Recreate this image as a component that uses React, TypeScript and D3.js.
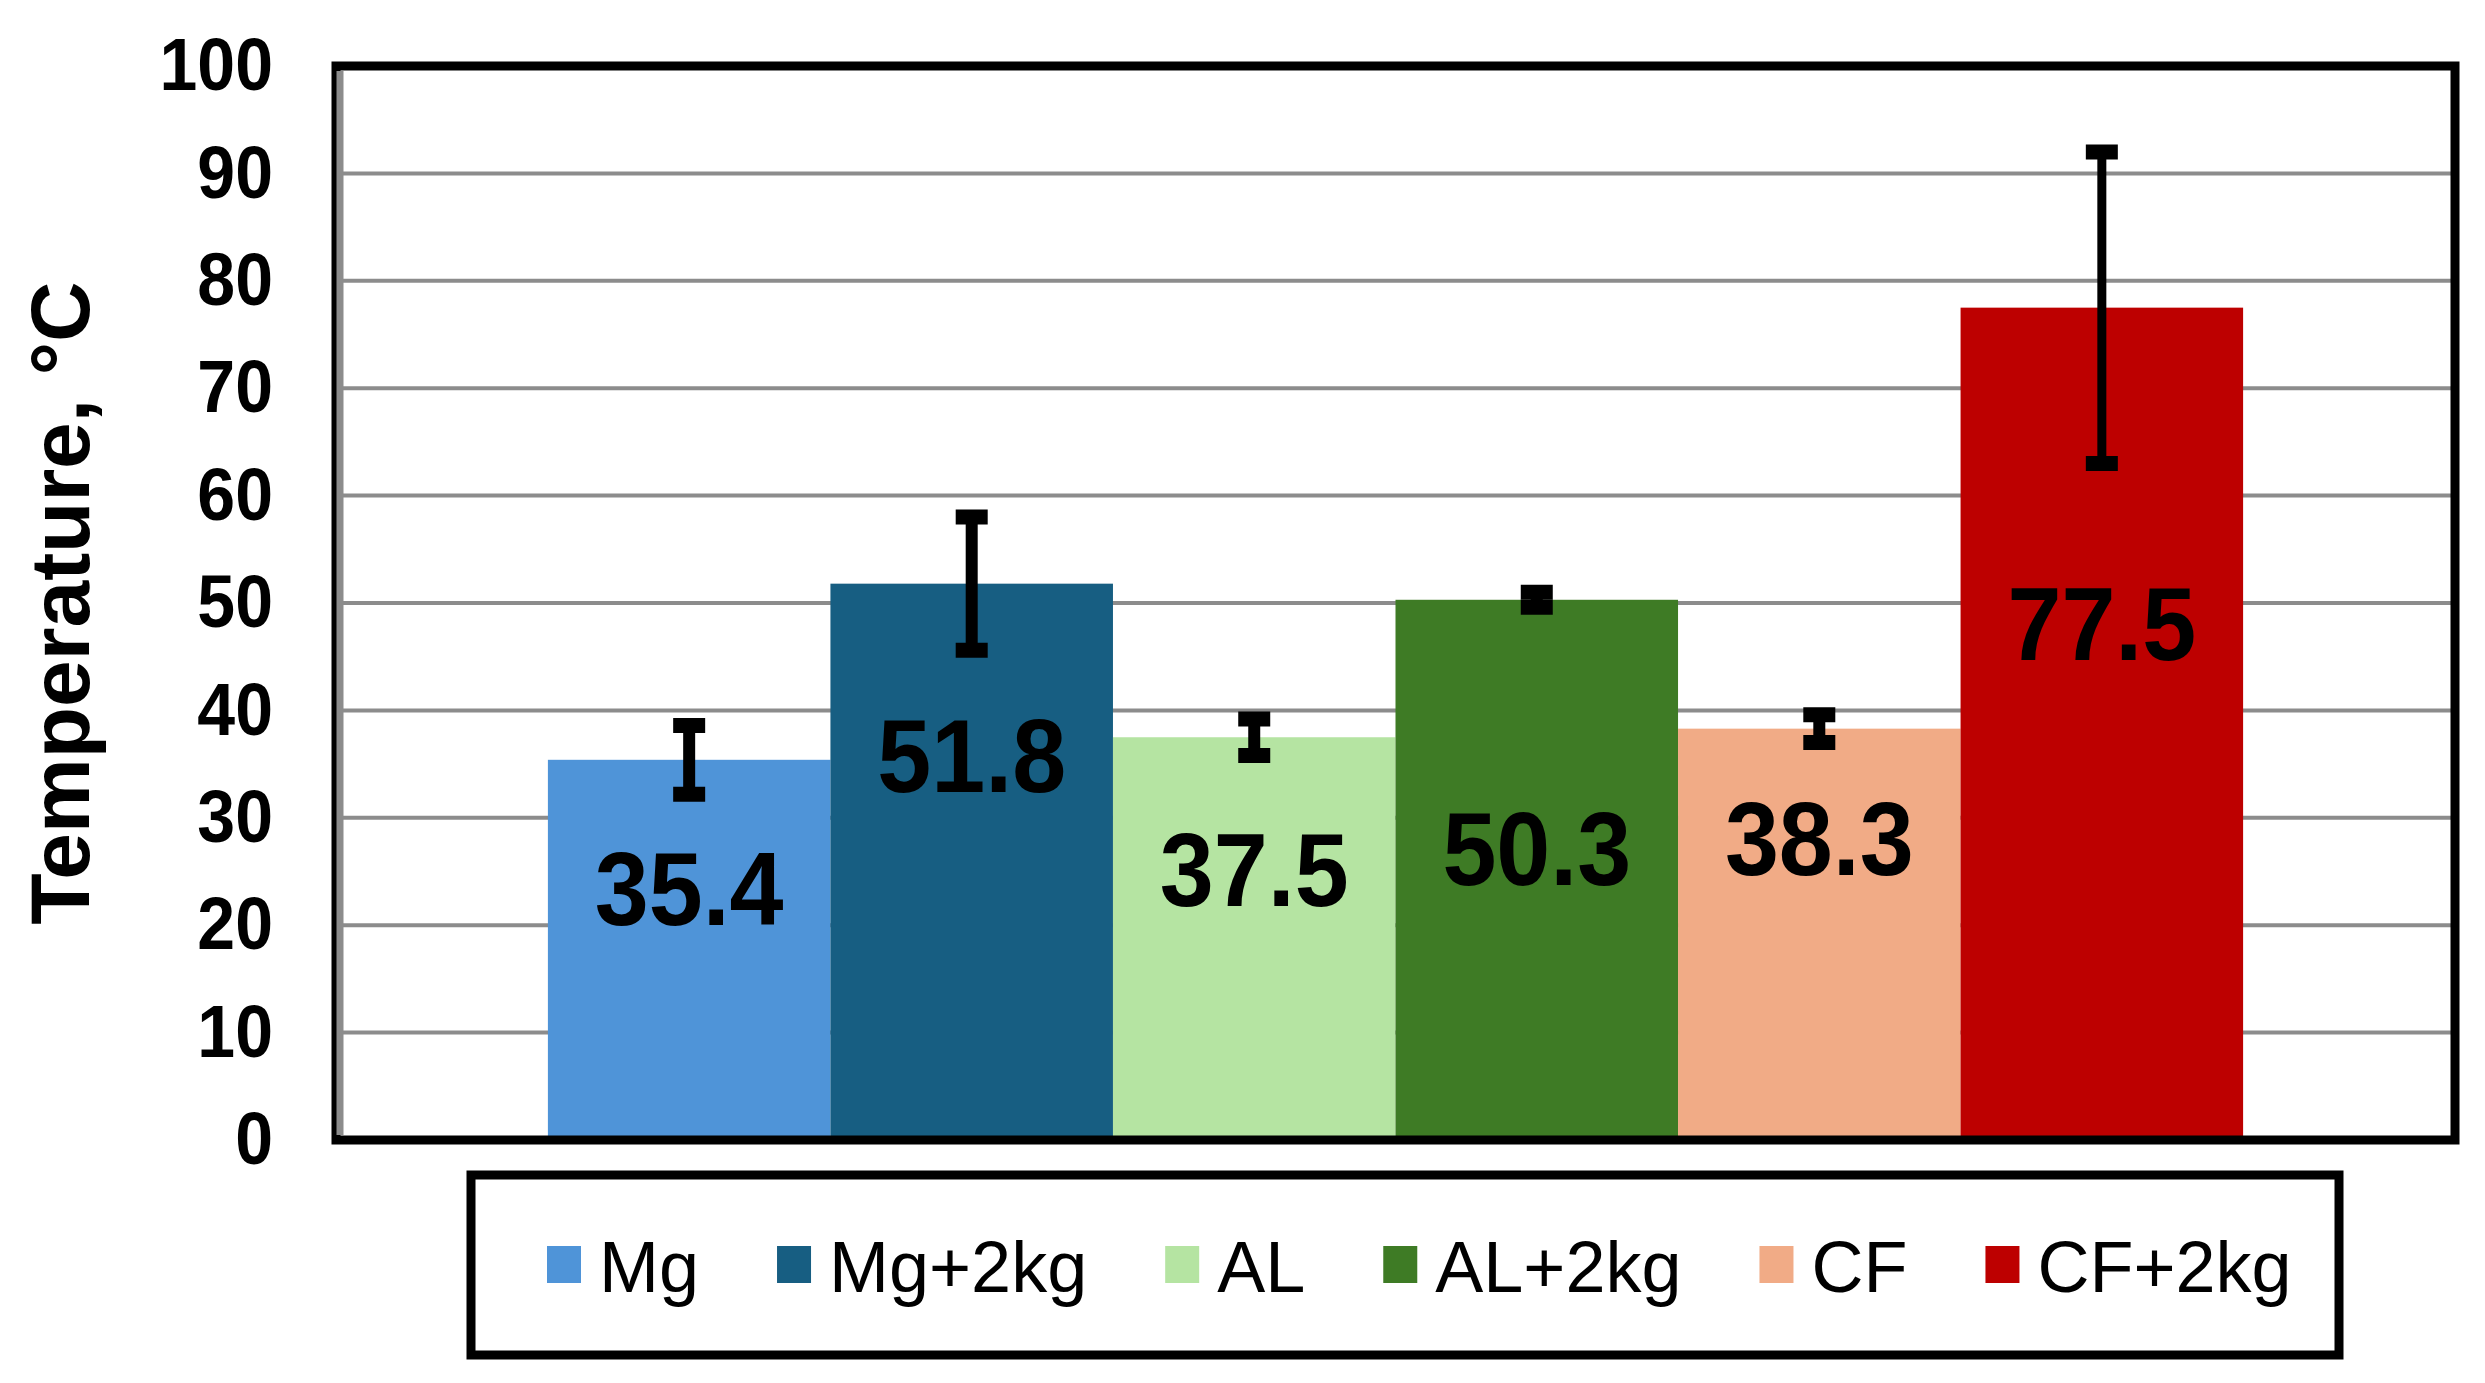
import * as d3 from "d3"
import { useEffect, useRef } from "react"

const categories = ["Mg", "Mg+2kg", "AL", "AL+2kg", "CF", "CF+2kg"]
const values = [35.4, 51.8, 37.5, 50.3, 38.3, 77.5]
const errors = [3.2, 6.2, 1.7, 0.7, 1.3, 14.5]
// where each value label sits (in °C), as placed in the original chart
const labelAt = [23.5, 35.9, 25.3, 27.2, 28.2, 48.2]
const colors = ["#4f94d8", "#175e82", "#b5e4a2", "#3e7b25", "#f1ab86", "#bd0000"]
const yTicks = [0, 10, 20, 30, 40, 50, 60, 70, 80, 90, 100]

const WIDTH = 2485
const HEIGHT = 1383
const PLOT = { left: 336, top: 66, right: 2455, bottom: 1140 }
const LEGEND = { left: 471, top: 1175, right: 2339, bottom: 1355 }
const FONT = "Arial, 'Liberation Sans', sans-serif"

const App = () => {
  const svgRef = useRef<SVGSVGElement>(null)

  useEffect(() => {
    document.body.style.margin = "0"
    if (!svgRef.current) return
    const svg = d3.select(svgRef.current)
    svg.selectAll("*").remove()
    svg.attr("width", WIDTH).attr("height", HEIGHT)

    const yScale = d3.scaleLinear().domain([0, 100]).range([PLOT.bottom, PLOT.top])

    // one group of six adjacent bars
    const group = d3
      .scaleBand()
      .domain(["all"])
      .range([PLOT.left, PLOT.right])
      .paddingInner(0.2)
      .paddingOuter(0.1)
    const xScale = d3
      .scaleBand()
      .domain(categories)
      .range([group("all") ?? 0, (group("all") ?? 0) + group.bandwidth()])
      .padding(0)

    svg
      .append("rect")
      .attr("width", WIDTH)
      .attr("height", HEIGHT)
      .attr("fill", "#fff")

    // gridlines
    svg
      .append("g")
      .selectAll("line")
      .data(yTicks.filter((d) => d > 0 && d < 100))
      .join("line")
      .attr("x1", PLOT.left)
      .attr("x2", PLOT.right)
      .attr("y1", (d) => yScale(d))
      .attr("y2", (d) => yScale(d))
      .attr("stroke", "#8c8c8c")
      .attr("stroke-width", 4)

    // bars
    svg
      .append("g")
      .selectAll("rect")
      .data(categories)
      .join("rect")
      .attr("x", (d) => xScale(d) ?? 0)
      .attr("width", xScale.bandwidth())
      .attr("y", (d, i) => yScale(values[i]))
      .attr("height", (d, i) => yScale(0) - yScale(values[i]))
      .attr("fill", (d, i) => colors[i])

    // error bars
    const eb = svg.append("g").attr("stroke", "#000")
    categories.forEach((c, i) => {
      const cx = (xScale(c) ?? 0) + xScale.bandwidth() / 2
      const hi = yScale(values[i] + errors[i])
      const lo = yScale(values[i] - errors[i])
      eb.append("line")
        .attr("x1", cx)
        .attr("x2", cx)
        .attr("y1", hi)
        .attr("y2", lo)
        .attr("stroke-width", i === 5 ? 9 : 12)
      ;[hi, lo].forEach((y) => {
        eb.append("line")
          .attr("x1", cx - 16)
          .attr("x2", cx + 16)
          .attr("y1", y)
          .attr("y2", y)
          .attr("stroke-width", 15)
      })
    })

    // value labels
    svg
      .append("g")
      .selectAll("text")
      .data(categories)
      .join("text")
      .attr(
        "transform",
        (d, i) =>
          `translate(${(xScale(d) ?? 0) + xScale.bandwidth() / 2}, ${yScale(labelAt[i])}) scale(1, 1.07)`,
      )
      .attr("dy", "0.36em")
      .attr("text-anchor", "middle")
      .attr("font-family", FONT)
      .attr("font-weight", "bold")
      .attr("font-size", 97)
      .attr("fill", "#000")
      .text((d, i) => values[i].toFixed(1))

    // plot frame
    svg
      .append("rect")
      .attr("x", PLOT.left)
      .attr("y", PLOT.top)
      .attr("width", PLOT.right - PLOT.left)
      .attr("height", PLOT.bottom - PLOT.top)
      .attr("fill", "none")
      .attr("stroke", "#000")
      .attr("stroke-width", 9)
    svg
      .append("line")
      .attr("x1", PLOT.left + 4)
      .attr("x2", PLOT.left + 4)
      .attr("y1", PLOT.top + 5)
      .attr("y2", PLOT.bottom - 5)
      .attr("stroke", "#8c8c8c")
      .attr("stroke-width", 7)

    // y axis
    const yAxis = svg
      .append("g")
      .attr("transform", `translate(${PLOT.left}, 0)`)
      .call(d3.axisLeft(yScale).tickValues(yTicks).tickSize(0).tickPadding(63))
    yAxis.select(".domain").remove()
    yAxis
      .selectAll("text")
      .attr("transform", "scale(1, 1.09)")
      .attr("font-family", FONT)
      .attr("font-weight", "bold")
      .attr("font-size", 68)
      .attr("fill", "#000")

    svg
      .append("text")
      .attr("transform", `translate(59, ${(PLOT.top + PLOT.bottom) / 2}) rotate(-90)`)
      .attr("dy", "0.36em")
      .attr("text-anchor", "middle")
      .attr("font-family", FONT)
      .attr("font-weight", "bold")
      .attr("font-size", 84)
      .text("Temperature, °C")

    // legend
    svg
      .append("rect")
      .attr("x", LEGEND.left)
      .attr("y", LEGEND.top)
      .attr("width", LEGEND.right - LEGEND.left)
      .attr("height", LEGEND.bottom - LEGEND.top)
      .attr("fill", "#fff")
      .attr("stroke", "#000")
      .attr("stroke-width", 9)

    const items = svg.append("g")
    let x = 547
    categories.forEach((c, i) => {
      items
        .append("rect")
        .attr("x", x)
        .attr("y", 1246)
        .attr("width", 34)
        .attr("height", 37)
        .attr("fill", colors[i])
      const t = items
        .append("text")
        .attr("x", x + 52)
        .attr("y", 1292)
        .attr("font-family", FONT)
        .attr("font-size", 72)
        .attr("fill", "#000")
        .text(c)
      const w = (t.node() as SVGTextElement).getComputedTextLength()
      x += 52 + w + 78
    })
  }, [])

  return (
    <div style={{ width: WIDTH, height: HEIGHT }}>
      <svg ref={svgRef} style={{ display: "block" }} />
    </div>
  )
}

export default App
